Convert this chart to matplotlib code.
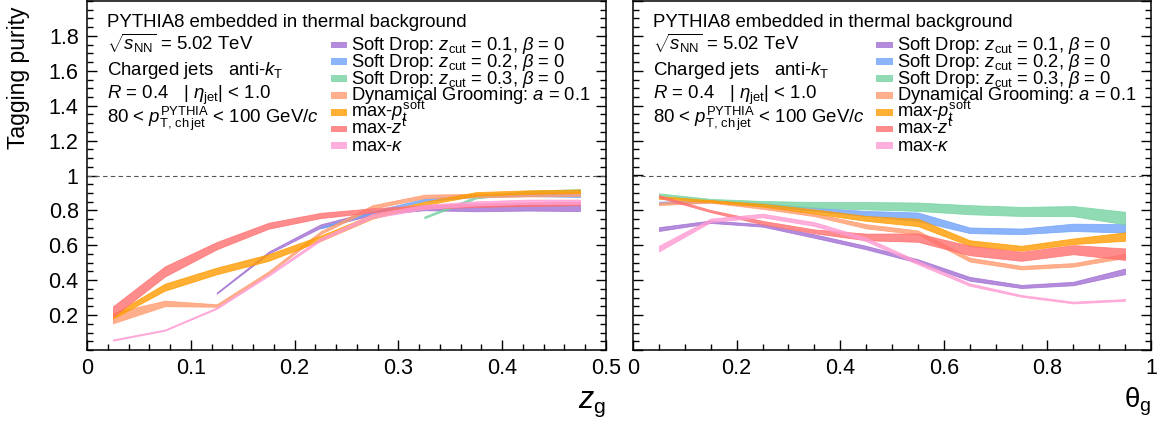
import matplotlib
matplotlib.use('Agg')
import matplotlib.pyplot as plt
from matplotlib.ticker import MultipleLocator, FormatStrFormatter
from matplotlib.patches import Rectangle
import numpy as np

plt.rcParams['font.family'] = ['Liberation Sans', 'DejaVu Sans']
plt.rcParams['mathtext.fontset'] = 'custom'
plt.rcParams['mathtext.rm'] = 'Liberation Sans'
plt.rcParams['mathtext.it'] = 'Liberation Sans:italic'
plt.rcParams['mathtext.bf'] = 'Liberation Sans:bold'

# bin centres
zg_bins = [0.025, 0.075, 0.125, 0.175, 0.225, 0.275, 0.325, 0.375, 0.425, 0.475]
tg_bins = [0.05, 0.15, 0.25, 0.35, 0.45, 0.55, 0.65, 0.75, 0.85, 0.95]

nan = np.nan
# purity vs z_g (value, half width of band)
zg_sd01 = [nan, nan, 0.326, 0.558, 0.71, 0.785, 0.815, 0.81, 0.815, 0.813]
zg_sd01_err = [0, 0, 0.003, 0.006, 0.010, 0.012, 0.014, 0.015, 0.016, 0.017]
zg_sd02 = [nan, nan, nan, nan, 0.70, 0.79, 0.86, 0.885, 0.89, 0.885]
zg_sd02_err = [0, 0, 0, 0, 0.004, 0.006, 0.007, 0.008, 0.008, 0.008]
zg_sd03 = [nan, nan, nan, nan, nan, nan, 0.76, 0.875, 0.905, 0.915]
zg_sd03_err = [0, 0, 0, 0, 0, 0, 0.005, 0.006, 0.007, 0.007]
zg_dg = [0.183, 0.267, 0.255, 0.444, 0.672, 0.82, 0.88, 0.885, 0.89, 0.895]
zg_dg_err = [0.03, 0.016, 0.007, 0.007, 0.008, 0.010, 0.010, 0.010, 0.010, 0.012]
zg_maxp = [0.192, 0.36, 0.453, 0.53, 0.64, 0.765, 0.84, 0.895, 0.905, 0.91]
zg_maxp_err = [0.012, 0.020, 0.019, 0.019, 0.015, 0.012, 0.010, 0.010, 0.010, 0.010]
zg_maxz = [0.22, 0.45, 0.598, 0.712, 0.771, 0.80, 0.82, 0.83, 0.835, 0.84]
zg_maxz_err = [0.03, 0.029, 0.021, 0.017, 0.015, 0.012, 0.010, 0.010, 0.010, 0.010]
zg_maxk = [0.057, 0.114, 0.24, 0.43, 0.634, 0.768, 0.82, 0.84, 0.85, 0.85]
zg_maxk_err = [0.003, 0.003, 0.004, 0.005, 0.008, 0.012, 0.012, 0.012, 0.012, 0.012]

# purity vs theta_g
tg_sd01 = [0.693, 0.735, 0.714, 0.653, 0.587, 0.51, 0.408, 0.364, 0.381, 0.451]
tg_sd01_err = [0.011, 0.007, 0.007, 0.010, 0.010, 0.010, 0.011, 0.009, 0.010, 0.016]
tg_sd02 = [0.844, 0.853, 0.834, 0.806, 0.783, 0.764, 0.686, 0.68, 0.703, 0.697]
tg_sd02_err = [0.006, 0.006, 0.008, 0.010, 0.014, 0.024, 0.016, 0.016, 0.021, 0.024]
tg_sd03 = [0.888, 0.859, 0.842, 0.832, 0.827, 0.821, 0.804, 0.794, 0.796, 0.756]
tg_sd03_err = [0.0095, 0.007, 0.012, 0.016, 0.021, 0.024, 0.026, 0.026, 0.029, 0.036]
tg_dg = [0.838, 0.851, 0.817, 0.775, 0.709, 0.674, 0.518, 0.472, 0.488, 0.54]
tg_dg_err = [0.007, 0.007, 0.008, 0.008, 0.012, 0.011, 0.011, 0.010, 0.010, 0.012]
tg_maxp = [0.874, 0.853, 0.83, 0.794, 0.754, 0.731, 0.613, 0.583, 0.623, 0.65]
tg_maxp_err = [0.008, 0.006, 0.008, 0.012, 0.014, 0.021, 0.016, 0.014, 0.016, 0.024]
tg_maxz = [0.88, 0.796, 0.73, 0.68, 0.648, 0.644, 0.57, 0.537, 0.575, 0.549]
tg_maxz_err = [0.007, 0.006, 0.010, 0.011, 0.019, 0.024, 0.027, 0.026, 0.026, 0.033]
tg_maxk = [0.581, 0.743, 0.771, 0.722, 0.634, 0.501, 0.375, 0.31, 0.272, 0.287]
tg_maxk_err = [0.016, 0.010, 0.010, 0.011, 0.010, 0.010, 0.007, 0.005, 0.005, 0.005]

labels = [r'Soft Drop: $z_{\rm cut}$ = 0.1, $\beta$ = 0',
          r'Soft Drop: $z_{\rm cut}$ = 0.2, $\beta$ = 0',
          r'Soft Drop: $z_{\rm cut}$ = 0.3, $\beta$ = 0',
          r'Dynamical Grooming: $a$ = 0.1',
          r'max-$p_{\rm t}^{\rm soft}$',
          r'max-$z^{\rm t}$',
          r'max-$\kappa$']
colors = ['#a16fd3', '#6fa1f9', '#75d3a1', '#ff9b6f', '#ff9b00', '#ff6f6f', '#ff9bd3']
ALPHA = 0.8

zg_series = [(zg_sd01, zg_sd01_err), (zg_sd02, zg_sd02_err), (zg_sd03, zg_sd03_err),
             (zg_dg, zg_dg_err), (zg_maxp, zg_maxp_err), (zg_maxz, zg_maxz_err),
             (zg_maxk, zg_maxk_err)]
tg_series = [(tg_sd01, tg_sd01_err), (tg_sd02, tg_sd02_err), (tg_sd03, tg_sd03_err),
             (tg_dg, tg_dg_err), (tg_maxp, tg_maxp_err), (tg_maxz, tg_maxz_err),
             (tg_maxk, tg_maxk_err)]

fig = plt.figure(figsize=(11.64, 4.25), dpi=100)
ax1 = fig.add_axes([87 / 1164, 1 - 350 / 425, 519 / 1164, 349 / 425])
ax2 = fig.add_axes([633 / 1164, 1 - 350 / 425, 518 / 1164, 349 / 425])


def draw_panel(ax, xs, series):
    xs = np.array(xs)
    for (val, err), c in zip(series, colors):
        val = np.array(val, dtype=float)
        err = np.maximum(np.array(err, dtype=float), 0.0035)
        ok = ~np.isnan(val)
        ax.fill_between(xs[ok], val[ok] - err[ok], val[ok] + err[ok], color=c,
                        alpha=ALPHA, linewidth=0.6, edgecolor=c, zorder=3)
    ax.axhline(1.0, color='#555555', lw=0.8, ls=(0, (4, 3)), zorder=2)
    ax.set_ylim(0, 2)
    ax.yaxis.set_major_locator(MultipleLocator(0.2))
    ax.yaxis.set_minor_locator(MultipleLocator(0.05))
    ax.tick_params(which='both', direction='in', left=True, right=True, top=False,
                   labelsize=15.5, pad=6, width=1.0)
    ax.tick_params(which='major', length=7.5)
    ax.tick_params(which='minor', length=4)
    for s in ax.spines.values():
        s.set_linewidth(1.1)

    # text block
    tx = 20 / 519
    ys = [26.7, 50, 75, 99, 123.3]
    info = ['PYTHIA8 embedded in thermal background',
            r'$\sqrt{s_{\rm NN}}$ = 5.02 TeV',
            r'Charged jets   anti-$k_{\rm T}$',
            r'$R$ = 0.4   | $\eta_{\rm jet}$| < 1.0',
            r'80 < $p_{\rm T,\,ch\,jet}^{\rm PYTHIA}$ < 100 GeV/$c$']
    for t, y in zip(info, ys):
        ax.text(tx, (350 - y) / 349, t, transform=ax.transAxes, fontsize=13.4,
                va='baseline', ha='left')

    # legend boxes
    for i, (lab, c) in enumerate(zip(labels, colors)):
        yc = 45 + 16.8 * i
        yf = (350 - yc) / 349
        ax.add_patch(Rectangle((243.7 / 519, yf - 3.4 / 349), 16.6 / 519, 6.8 / 349,
                               transform=ax.transAxes, color=c, alpha=ALPHA, lw=0))
        ax.text(264.3 / 519, (350 - yc - 5) / 349, lab, transform=ax.transAxes,
                fontsize=13.2, va='baseline', ha='left')


draw_panel(ax1, zg_bins, zg_series)
draw_panel(ax2, tg_bins, tg_series)

ax1.set_xlim(0, 0.5)
ax1.xaxis.set_major_locator(MultipleLocator(0.1))
ax1.xaxis.set_minor_locator(MultipleLocator(0.02))
ax1.set_yticks([0.2, 0.4, 0.6, 0.8, 1.0, 1.2, 1.4, 1.6, 1.8])
ax1.set_yticks(np.arange(0, 2.001, 0.05), minor=True)
ax1.yaxis.set_major_formatter(FormatStrFormatter('%g'))
ax1.xaxis.set_major_formatter(FormatStrFormatter('%g'))

ax2.set_xlim(0, 1)
ax2.xaxis.set_major_locator(MultipleLocator(0.2))
ax2.xaxis.set_minor_locator(MultipleLocator(0.05))
ax2.xaxis.set_major_formatter(FormatStrFormatter('%g'))
ax2.tick_params(labelleft=False)

fig.text(0.016, 0.985, 'Tagging purity', rotation=90, ha='center', va='top', fontsize=16.5)
fig.text(606 / 1164, 1 - 408 / 425, r'$z_{\rm g}$', ha='right', va='baseline', fontsize=22)
fig.text(1151 / 1164, 1 - 408 / 425, r'$\mathrm{\theta}_{\rm g}$', ha='right', va='baseline',
         fontsize=20)

fig.savefig('out.png', dpi=100)
